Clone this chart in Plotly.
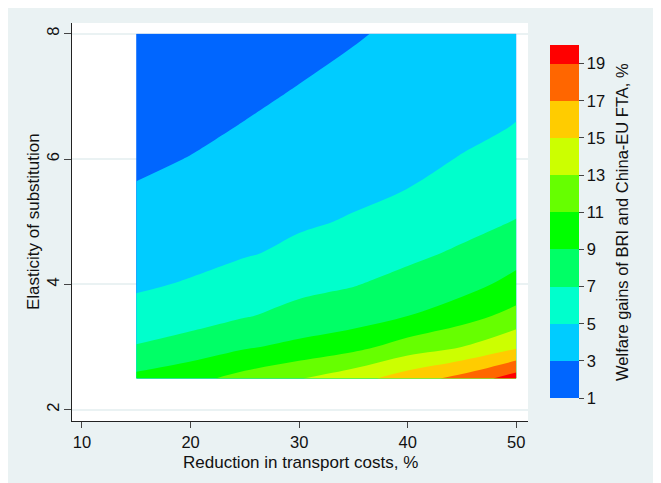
import plotly.graph_objects as go

# ---------------- data ----------------
reduction = [15, 20, 25, 30, 35, 40, 45, 50]          # x: reduction in transport costs, %
elasticity = [2.5, 3.0, 3.5, 4.0, 4.5, 5.0, 5.5, 6.0, 6.5, 7.0, 7.5, 8.0]  # y

# welfare gains (%), one row per elasticity value, one column per reduction value
gain_e25 = [9.5, 10.4, 11.7, 12.9, 14.2, 16.04, 17.64, 20.0]
gain_e30 = [7.14, 7.8, 8.8, 9.5, 10.4, 11.89, 13.02, 14.73]
gain_e35 = [5.5, 6.2, 6.87, 7.6, 8.0, 8.97, 10.16, 11.67]
gain_e40 = [4.8, 5.12, 5.82, 6.48, 6.91, 7.55, 8.25, 9.64]
gain_e45 = [4.24, 4.57, 4.85, 5.35, 6.06, 6.61, 7.24, 8.25]
gain_e50 = [3.69, 4.07, 4.45, 4.8, 5.12, 5.81, 6.44, 7.07]
gain_e55 = [3.13, 3.56, 4.0, 4.39, 4.72, 5.02, 5.75, 6.4]
gain_e60 = [2.68, 3.05, 3.54, 3.98, 4.34, 4.67, 5.06, 5.76]
gain_e65 = [2.26, 2.65, 3.09, 3.56, 3.97, 4.34, 4.72, 5.05]
gain_e70 = [1.84, 2.25, 2.7, 3.15, 3.6, 4.01, 4.41, 4.8]
gain_e75 = [1.42, 1.86, 2.32, 2.77, 3.22, 3.68, 4.11, 4.55]
gain_e80 = [1.05, 1.47, 1.94, 2.4, 2.85, 3.35, 3.8, 4.3]

welfare = [gain_e25, gain_e30, gain_e35, gain_e40, gain_e45, gain_e50,
           gain_e55, gain_e60, gain_e65, gain_e70, gain_e75, gain_e80]

level_start, level_end, level_step = 1, 19, 2
scale_min, scale_max = 1, 20
cbar_ticks = [1, 3, 5, 7, 9, 11, 13, 15, 17, 19]
x_ticks = [10, 20, 30, 40, 50]
y_ticks = [2, 4, 6, 8]

x_title = "Reduction in transport costs, %"
y_title = "Elasticity of substitution"
bar_title = "Welfare gains of BRI and China-EU FTA, %"

band_colors = ["#0066FF", "#00CCFF", "#00FFCC", "#00FF66", "#00FF00",
               "#66FF00", "#CCFF00", "#FFCC00", "#FF6600", "#FF0000"]

# ---------------- styling ----------------
FONT = "Liberation Sans"
BG = "#EAF2F3"
TXT = "#111111"

# contour fill colours: plotly evaluates band (L..L+2) at (L+1)/20
contour_scale = [[0.0, band_colors[0]]] + [[(i + 1) / 10, c] for i, c in enumerate(band_colors)]

# stepped scale for the colour bar spanning 1..20
bar_scale = []
for i, c in enumerate(band_colors):
    lo = (level_start + level_step * i - scale_min) / (scale_max - scale_min)
    hi = min(level_start + level_step * (i + 1), scale_max)
    hi = (hi - scale_min) / (scale_max - scale_min)
    bar_scale.append([lo, c])
    bar_scale.append([hi, c])

fig = go.Figure()

fig.add_trace(go.Contour(
    x=reduction, y=elasticity, z=welfare,
    colorscale=contour_scale,
    autocontour=False,
    contours=dict(start=level_start, end=level_end, size=level_step,
                  coloring="fill", showlines=False),
    line=dict(width=0),
    showscale=False,
    hoverinfo="skip",
))

fig.add_trace(go.Scatter(
    x=[None], y=[None], mode="markers", showlegend=False, hoverinfo="skip",
    marker=dict(
        color=[scale_min], cmin=scale_min, cmax=scale_max,
        colorscale=bar_scale, showscale=True,
        colorbar=dict(
            thickness=29, thicknessmode="pixels",
            len=353, lenmode="pixels",
            x=1.0482, xanchor="left", y=0.501, yanchor="middle",
            xpad=0, ypad=0, outlinewidth=0,
            tickmode="array", tickvals=cbar_ticks,
            ticks="outside", ticklen=5, tickwidth=1, tickcolor="#444444",
            tickfont=dict(family=FONT, size=16.5, color=TXT),
        ),
    ),
))

fig.update_layout(
    width=653, height=475,
    margin=dict(l=64, r=133, t=15, b=62, pad=0, autoexpand=False),
    paper_bgcolor=BG, plot_bgcolor="white",
    font=dict(family=FONT, size=16.5, color=TXT),
    showlegend=False,
    xaxis=dict(
        range=[9.08, 51.08], tickmode="array", tickvals=x_ticks,
        showgrid=False, zeroline=False, automargin=False,
        showline=True, linecolor="#222222", linewidth=1.3,
        ticks="outside", ticklen=6, tickwidth=1, tickcolor="#444444",
        ticklabelstandoff=0,
        tickfont=dict(family=FONT, size=16.5, color=TXT),
    ),
    yaxis=dict(
        range=[1.82, 8.17], tickmode="array", tickvals=y_ticks,
        showgrid=True, gridcolor=BG, gridwidth=1.5, zeroline=False, automargin=False,
        showline=True, linecolor="#222222", linewidth=1.3,
        ticks="outside", ticklen=7, tickwidth=1, tickcolor="#444444",
        tickangle=-90, ticklabelstandoff=-2,
        tickfont=dict(family=FONT, size=16.5, color=TXT),
    ),
    annotations=[
        dict(text=x_title, xref="paper", yref="paper", x=0.5, y=-0.1055,
             xanchor="center", yanchor="middle", showarrow=False,
             font=dict(family=FONT, size=17, color=TXT)),
        dict(text=y_title, xref="paper", yref="paper", x=-0.0855, y=0.5,
             xanchor="center", yanchor="middle", showarrow=False, textangle=-90,
             font=dict(family=FONT, size=17, color=TXT)),
        dict(text=bar_title, xref="paper", yref="paper", x=1.2061, y=0.5,
             xanchor="center", yanchor="middle", showarrow=False, textangle=-90,
             font=dict(family=FONT, size=16.5, color=TXT)),
    ],
)

fig.write_html("out.html")
